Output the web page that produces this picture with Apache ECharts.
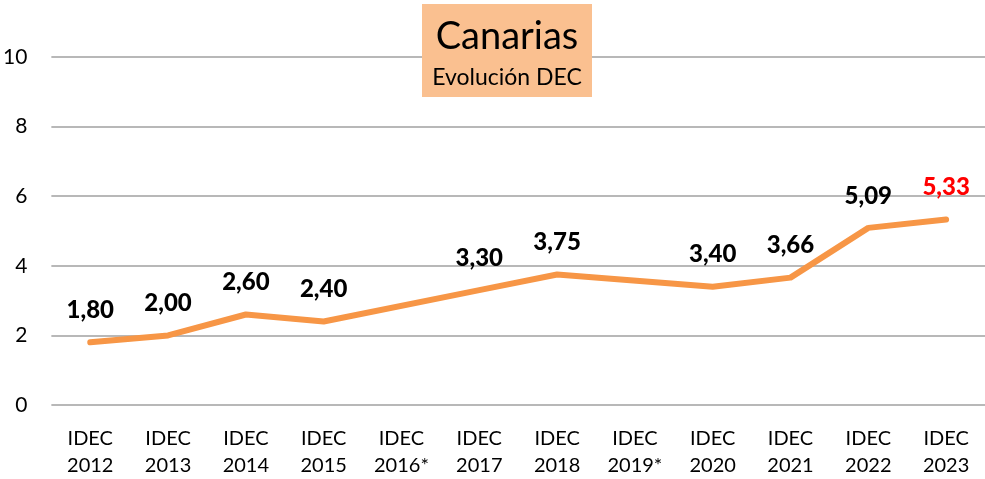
<!DOCTYPE html>
<html>
<head>
<meta charset="utf-8">
<script src="https://cdn.jsdelivr.net/npm/echarts@6/dist/echarts.min.js"></script>
<style>html,body{margin:0;padding:0;background:#fff}#c{width:985px;height:479px}</style>
</head>
<body>
<div id="c"></div>
<script>
const categories = ['IDEC\n2012','IDEC\n2013','IDEC\n2014','IDEC\n2015','IDEC\n2016*','IDEC\n2017','IDEC\n2018','IDEC\n2019*','IDEC\n2020','IDEC\n2021','IDEC\n2022','IDEC\n2023'];
const values = [1.80, 2.00, 2.60, 2.40, null, 3.30, 3.75, null, 3.40, 3.66, 5.09, 5.33];
const titleText = 'Canarias';
const subtitleText = 'Evolución DEC';
const FONT = 'Lato, "Open Sans", sans-serif';

const chart = echarts.init(document.getElementById('c'));
chart.setOption({
  animation: false,
  grid: { left: 50, right: 0, top: 57, bottom: 72, containLabel: false },
  xAxis: {
    type: 'category', data: categories, boundaryGap: true,
    axisLine: { show: false }, axisTick: { show: false },
    axisLabel: { color: '#000', fontSize: 20, fontFamily: FONT, lineHeight: 27, margin: 20, interval: 0 }
  },
  yAxis: {
    type: 'value', min: 0, max: 10, interval: 2,
    axisLine: { show: false }, axisTick: { show: false },
    axisLabel: { color: '#000', fontSize: 21, fontFamily: FONT, margin: 24, align: 'right' },
    splitLine: { lineStyle: { color: '#a0a0a0', width: 1.5 } }
  },
  series: [{
    type: 'line', connectNulls: true,
    symbol: 'circle', symbolSize: 0, showSymbol: true, smooth: false,
    lineStyle: { color: '#F79646', width: 6, cap: 'round', join: 'round' },
    itemStyle: { color: '#F79646' },
    label: {
      show: true, position: 'top', distance: 20,
      fontSize: 24, fontWeight: 900, fontFamily: FONT, color: '#000',
      formatter: p => p.value == null ? '' : Number(p.value).toFixed(2).replace('.', ',')
    },
    data: values.map((v, i) => i === values.length - 1
      ? { value: v, label: { color: '#FF0000' } } : v)
  }],
  graphic: [
    { type: 'rect', shape: { x: 422, y: 4, width: 170, height: 93 }, style: { fill: '#FAC090' }, z: 10 },
    { type: 'text', x: 507, y: 37, style: { text: titleText, font: '38px ' + FONT, fill: '#000', textAlign: 'center', textVerticalAlign: 'middle' }, z: 11 },
    { type: 'text', x: 507, y: 78, style: { text: subtitleText, font: '23px ' + FONT, fill: '#000', textAlign: 'center', textVerticalAlign: 'middle' }, z: 11 }
  ]
});
</script>
</body>
</html>
